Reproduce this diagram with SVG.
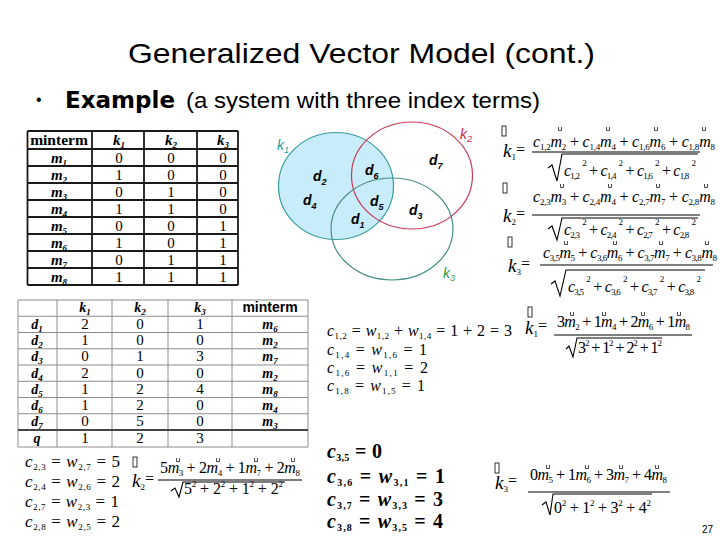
<svg xmlns="http://www.w3.org/2000/svg" width="720" height="540" viewBox="0 0 720 540">
<style>
.title{font-family:"Liberation Sans",Arial,sans-serif;font-size:28px;fill:#000}
.sans{font-family:"Liberation Sans",Arial,sans-serif;fill:#000}
.ex{font-family:"DejaVu Sans","Liberation Sans",sans-serif;font-weight:bold;font-size:23px}
.eq{font-family:"Liberation Serif","Times New Roman",serif;font-style:italic;font-size:16px;fill:#000}
.e17{font-size:17px}
.e20{font-size:20px;font-weight:bold}
.up{font-style:normal}
.sb{font-size:9px;font-style:normal}
.sb10{font-size:10px;font-style:normal}
.big{font-size:19px}
.ln{stroke:#000;stroke-width:1.1;fill:none}
.th{font-family:"Liberation Serif","Times New Roman",serif;font-weight:bold;font-size:15.5px;text-anchor:middle}
.tk{font-family:"Liberation Serif","Times New Roman",serif;font-weight:bold;font-style:italic;font-size:15px;text-anchor:middle}
.tk14{font-size:14px}
.tsb{font-size:9px}
.tv{font-family:"Liberation Serif","Times New Roman",serif;font-size:15px;text-anchor:middle}
.mt{font-family:"Liberation Sans",Arial,sans-serif;font-weight:bold;font-size:14px;text-anchor:middle}
.grid1{stroke:#1a1a1a;stroke-width:1.8;fill:none}
.grid2{stroke:#8c8c8c;stroke-width:1;fill:none}
.vk{font-family:"Liberation Sans",Arial,sans-serif;font-style:italic;font-size:14px}
.vd{font-family:"Liberation Sans",Arial,sans-serif;font-style:italic;font-weight:bold;font-size:14px;fill:#000}
.vs{font-size:9px}
</style>
<defs>
<path id="mk" d="M-1.5,0v3.5h3v-3.5" fill="none" stroke="#000" stroke-width="0.7"/>
<rect id="tf" x="0" y="0" width="4" height="10" fill="none" stroke="#000" stroke-width="0.8"/>
</defs>

<g id="title">
<text class="title" x="128" y="63" textLength="467" lengthAdjust="spacingAndGlyphs">Generalized Vector Model (cont.)</text>
</g>
<g id="subtitle">
<text class="sans" x="36" y="105" font-size="16">•</text>
<text class="ex" x="65" y="108" textLength="110" lengthAdjust="spacingAndGlyphs">Example</text>
<text class="sans" x="186" y="108" font-size="22" textLength="354" lengthAdjust="spacingAndGlyphs">(a system with three index terms)</text>
</g>

<g id="minterm-table">
<path class="grid1" d="M27.5,131H238M27.5,149H238M27.5,166H238M27.5,183H238M27.5,200H238M27.5,217H238M27.5,234H238M27.5,251H238M27.5,268H238M27.5,285H238M27.5,131V285M92,131V285M144,131V285M197,131V285M238,131V285"/>
<text class="th" x="59" y="145">minterm</text>
<text class="tk" x="119" y="145">k<tspan class="tsb" dy="3">1</tspan></text>
<text class="tk" x="171" y="145">k<tspan class="tsb" dy="3">2</tspan></text>
<text class="tk" x="223" y="145">k<tspan class="tsb" dy="3">3</tspan></text>
<text class="tk" x="59" y="163">m<tspan class="tsb" dy="3">1</tspan></text>
<text class="tk" x="59" y="180">m<tspan class="tsb" dy="3">2</tspan></text>
<text class="tk" x="59" y="197">m<tspan class="tsb" dy="3">3</tspan></text>
<text class="tk" x="59" y="214">m<tspan class="tsb" dy="3">4</tspan></text>
<text class="tk" x="59" y="231">m<tspan class="tsb" dy="3">5</tspan></text>
<text class="tk" x="59" y="248">m<tspan class="tsb" dy="3">6</tspan></text>
<text class="tk" x="59" y="265">m<tspan class="tsb" dy="3">7</tspan></text>
<text class="tk" x="59" y="282">m<tspan class="tsb" dy="3">8</tspan></text>
<text class="tv" x="119" y="163">0</text><text class="tv" x="171" y="163">0</text><text class="tv" x="223" y="163">0</text>
<text class="tv" x="119" y="180">1</text><text class="tv" x="171" y="180">0</text><text class="tv" x="223" y="180">0</text>
<text class="tv" x="119" y="197">0</text><text class="tv" x="171" y="197">1</text><text class="tv" x="223" y="197">0</text>
<text class="tv" x="119" y="214">1</text><text class="tv" x="171" y="214">1</text><text class="tv" x="223" y="214">0</text>
<text class="tv" x="119" y="231">0</text><text class="tv" x="171" y="231">0</text><text class="tv" x="223" y="231">1</text>
<text class="tv" x="119" y="248">1</text><text class="tv" x="171" y="248">0</text><text class="tv" x="223" y="248">1</text>
<text class="tv" x="119" y="265">0</text><text class="tv" x="171" y="265">1</text><text class="tv" x="223" y="265">1</text>
<text class="tv" x="119" y="282">1</text><text class="tv" x="171" y="282">1</text><text class="tv" x="223" y="282">1</text>
</g>

<g id="venn">
<ellipse cx="336" cy="186" rx="57.5" ry="53.5" fill="#c8ecf9" stroke="#3a9c9c" stroke-width="1.2"/>
<ellipse cx="412" cy="175.5" rx="60.5" ry="53.5" fill="none" stroke="#c83a55" stroke-width="1.2"/>
<ellipse cx="392" cy="229" rx="61" ry="51" fill="none" stroke="#4a8f88" stroke-width="1.2"/>
<text class="vk" x="277" y="150" fill="#2a9c9c">k<tspan class="vs" dy="3">1</tspan></text>
<text class="vk" x="460" y="139" fill="#d4203f">k<tspan class="vs" dy="3">2</tspan></text>
<text class="vk" x="443" y="278" fill="#2f9a45">k<tspan class="vs" dy="3">3</tspan></text>
<text class="vd" x="313" y="181">d<tspan class="vs" dy="4">2</tspan></text>
<text class="vd" x="303" y="205">d<tspan class="vs" dy="4">4</tspan></text>
<text class="vd" x="365" y="175">d<tspan class="vs" dy="4">6</tspan></text>
<text class="vd" x="370" y="206">d<tspan class="vs" dy="4">5</tspan></text>
<text class="vd" x="351" y="224">d<tspan class="vs" dy="4">1</tspan></text>
<text class="vd" x="429" y="165">d<tspan class="vs" dy="4">7</tspan></text>
<text class="vd" x="409" y="215">d<tspan class="vs" dy="4">3</tspan></text>
</g>

<g id="k1-general">
<use href="#tf" x="502" y="126"/>
<text class="eq big" x="503" y="157">k<tspan class="sb" dy="3">1</tspan></text>
<text class="eq up" x="516" y="155">=</text>
<use href="#mk" x="560" y="127"/><use href="#mk" x="608" y="127"/><use href="#mk" x="656" y="127"/><use href="#mk" x="704" y="127"/>
<text class="eq" x="533" y="147" textLength="182" lengthAdjust="spacing">c<tspan class="sb" dy="3">1,2</tspan><tspan dy="-3">m</tspan><tspan class="sb" dy="3">2</tspan><tspan class="up" dy="-3"> + </tspan>c<tspan class="sb" dy="3">1,4</tspan><tspan dy="-3">m</tspan><tspan class="sb" dy="3">4</tspan><tspan class="up" dy="-3"> + </tspan>c<tspan class="sb" dy="3">1,6</tspan><tspan dy="-3">m</tspan><tspan class="sb" dy="3">6</tspan><tspan class="up" dy="-3"> + </tspan>c<tspan class="sb" dy="3">1,8</tspan><tspan dy="-3">m</tspan><tspan class="sb" dy="3">8</tspan></text>
<path class="ln" d="M532,152H700M548,168L552,165L557,181L562,154H698"/>
<text class="eq" x="564" y="176" textLength="132" lengthAdjust="spacing">c<tspan class="sb" dy="3">1,2</tspan><tspan class="sb" dx="3" dy="-13">2</tspan><tspan class="up" dy="10"> + </tspan>c<tspan class="sb" dy="3">1,4</tspan><tspan class="sb" dx="3" dy="-13">2</tspan><tspan class="up" dy="10"> + </tspan>c<tspan class="sb" dy="3">1,6</tspan><tspan class="sb" dx="3" dy="-13">2</tspan><tspan class="up" dy="10"> + </tspan>c<tspan class="sb" dy="3">1,8</tspan><tspan class="sb" dx="3" dy="-13">2</tspan></text>
</g>

<g id="k2-general">
<use href="#tf" x="503" y="183"/>
<text class="eq big" x="503" y="222">k<tspan class="sb" dy="3">2</tspan></text>
<text class="eq up" x="516" y="219">=</text>
<use href="#mk" x="562" y="184"/><use href="#mk" x="610" y="184"/><use href="#mk" x="658" y="184"/><use href="#mk" x="706" y="184"/>
<text class="eq" x="533" y="202" textLength="182" lengthAdjust="spacing">c<tspan class="sb" dy="3">2,3</tspan><tspan dy="-3">m</tspan><tspan class="sb" dy="3">3</tspan><tspan class="up" dy="-3"> + </tspan>c<tspan class="sb" dy="3">2,4</tspan><tspan dy="-3">m</tspan><tspan class="sb" dy="3">4</tspan><tspan class="up" dy="-3"> + </tspan>c<tspan class="sb" dy="3">2,7</tspan><tspan dy="-3">m</tspan><tspan class="sb" dy="3">7</tspan><tspan class="up" dy="-3"> + </tspan>c<tspan class="sb" dy="3">2,8</tspan><tspan dy="-3">m</tspan><tspan class="sb" dy="3">8</tspan></text>
<path class="ln" d="M532,215H700M548,229L552,226L557,240L562,218H698"/>
<text class="eq" x="564" y="235" textLength="132" lengthAdjust="spacing">c<tspan class="sb" dy="3">2,3</tspan><tspan class="sb" dx="3" dy="-13">2</tspan><tspan class="up" dy="10"> + </tspan>c<tspan class="sb" dy="3">2,4</tspan><tspan class="sb" dx="3" dy="-13">2</tspan><tspan class="up" dy="10"> + </tspan>c<tspan class="sb" dy="3">2,7</tspan><tspan class="sb" dx="3" dy="-13">2</tspan><tspan class="up" dy="10"> + </tspan>c<tspan class="sb" dy="3">2,8</tspan><tspan class="sb" dx="3" dy="-13">2</tspan></text>
</g>

<g id="k3-general">
<use href="#tf" x="508" y="237"/>
<text class="eq big" x="508" y="272">k<tspan class="sb" dy="3">3</tspan></text>
<text class="eq up" x="521" y="269">=</text>
<use href="#mk" x="566" y="241"/><use href="#mk" x="615" y="241"/><use href="#mk" x="661" y="241"/><use href="#mk" x="707" y="241"/>
<text class="eq" x="543" y="258" textLength="174" lengthAdjust="spacing">c<tspan class="sb" dy="3">3,5</tspan><tspan dy="-3">m</tspan><tspan class="sb" dy="3">5</tspan><tspan class="up" dy="-3"> + </tspan>c<tspan class="sb" dy="3">3,6</tspan><tspan dy="-3">m</tspan><tspan class="sb" dy="3">6</tspan><tspan class="up" dy="-3"> + </tspan>c<tspan class="sb" dy="3">3,7</tspan><tspan dy="-3">m</tspan><tspan class="sb" dy="3">7</tspan><tspan class="up" dy="-3"> + </tspan>c<tspan class="sb" dy="3">3,8</tspan><tspan dy="-3">m</tspan><tspan class="sb" dy="3">8</tspan></text>
<path class="ln" d="M540,265H713M551,284L555,281L560,296L566,270H705"/>
<text class="eq" x="568" y="292" textLength="133" lengthAdjust="spacing">c<tspan class="sb" dy="3">3,5</tspan><tspan class="sb" dx="3" dy="-13">2</tspan><tspan class="up" dy="10"> + </tspan>c<tspan class="sb" dy="3">3,6</tspan><tspan class="sb" dx="3" dy="-13">2</tspan><tspan class="up" dy="10"> + </tspan>c<tspan class="sb" dy="3">3,7</tspan><tspan class="sb" dx="3" dy="-13">2</tspan><tspan class="up" dy="10"> + </tspan>c<tspan class="sb" dy="3">3,8</tspan><tspan class="sb" dx="3" dy="-13">2</tspan></text>
</g>

<g id="doc-table">
<path class="grid2" d="M18,300H308M18,316.25H308M18,332.5H308M18,348.75H308M18,365H308M18,381.25H308M18,397.5H308M18,413.75H308M18,447H308M18,300V447M57,300V447M112,300V447M168,300V447M232,300V447M308,300V447"/>
<path d="M18,430H308" stroke="#444" stroke-width="2"/>
<text class="tk tk14" x="85" y="312">k<tspan class="tsb" dy="3">1</tspan></text>
<text class="tk tk14" x="140" y="312">k<tspan class="tsb" dy="3">2</tspan></text>
<text class="tk tk14" x="200" y="312">k<tspan class="tsb" dy="3">3</tspan></text>
<text class="mt" x="270" y="312">minterm</text>
<text class="tk tk14" x="37" y="328.5">d<tspan class="tsb" dy="3">1</tspan></text>
<text class="tk tk14" x="37" y="345">d<tspan class="tsb" dy="3">2</tspan></text>
<text class="tk tk14" x="37" y="361">d<tspan class="tsb" dy="3">3</tspan></text>
<text class="tk tk14" x="37" y="377.5">d<tspan class="tsb" dy="3">4</tspan></text>
<text class="tk tk14" x="37" y="393.5">d<tspan class="tsb" dy="3">5</tspan></text>
<text class="tk tk14" x="37" y="410">d<tspan class="tsb" dy="3">6</tspan></text>
<text class="tk tk14" x="37" y="426">d<tspan class="tsb" dy="3">7</tspan></text>
<text class="tk tk14" x="37" y="443">q</text>
<text class="tv" x="85" y="328.5">2</text><text class="tv" x="140" y="328.5">0</text><text class="tv" x="200" y="328.5">1</text><text class="tk tk14" x="270" y="328.5">m<tspan class="tsb" dy="3">6</tspan></text>
<text class="tv" x="85" y="345">1</text><text class="tv" x="140" y="345">0</text><text class="tv" x="200" y="345">0</text><text class="tk tk14" x="270" y="345">m<tspan class="tsb" dy="3">2</tspan></text>
<text class="tv" x="85" y="361">0</text><text class="tv" x="140" y="361">1</text><text class="tv" x="200" y="361">3</text><text class="tk tk14" x="270" y="361">m<tspan class="tsb" dy="3">7</tspan></text>
<text class="tv" x="85" y="377.5">2</text><text class="tv" x="140" y="377.5">0</text><text class="tv" x="200" y="377.5">0</text><text class="tk tk14" x="270" y="377.5">m<tspan class="tsb" dy="3">2</tspan></text>
<text class="tv" x="85" y="393.5">1</text><text class="tv" x="140" y="393.5">2</text><text class="tv" x="200" y="393.5">4</text><text class="tk tk14" x="270" y="393.5">m<tspan class="tsb" dy="3">8</tspan></text>
<text class="tv" x="85" y="410">1</text><text class="tv" x="140" y="410">2</text><text class="tv" x="200" y="410">0</text><text class="tk tk14" x="270" y="410">m<tspan class="tsb" dy="3">4</tspan></text>
<text class="tv" x="85" y="426">0</text><text class="tv" x="140" y="426">5</text><text class="tv" x="200" y="426">0</text><text class="tk tk14" x="270" y="426">m<tspan class="tsb" dy="3">3</tspan></text>
<text class="tv" x="85" y="443">1</text><text class="tv" x="140" y="443">2</text><text class="tv" x="200" y="443">3</text>
</g>

<g id="c1-values">
<text class="eq" x="327" y="336" textLength="185" lengthAdjust="spacing">c<tspan class="sb" dy="3">1,2</tspan><tspan class="up" dy="-3"> = </tspan>w<tspan class="sb" dy="3">1,2</tspan><tspan class="up" dy="-3"> + </tspan>w<tspan class="sb" dy="3">1,4</tspan><tspan class="up" dy="-3"> = 1 + 2 = 3</tspan></text>
<text class="eq" x="327" y="355" textLength="100" lengthAdjust="spacing">c<tspan class="sb" dy="3">1,4</tspan><tspan class="up" dy="-3"> = </tspan>w<tspan class="sb" dy="3">1,6</tspan><tspan class="up" dy="-3"> = 1</tspan></text>
<text class="eq" x="327" y="373" textLength="101" lengthAdjust="spacing">c<tspan class="sb" dy="3">1,6</tspan><tspan class="up" dy="-3"> = </tspan>w<tspan class="sb" dy="3">1,1</tspan><tspan class="up" dy="-3"> = 2</tspan></text>
<text class="eq" x="327" y="391" textLength="98" lengthAdjust="spacing">c<tspan class="sb" dy="3">1,8</tspan><tspan class="up" dy="-3"> = </tspan>w<tspan class="sb" dy="3">1,5</tspan><tspan class="up" dy="-3"> = 1</tspan></text>
</g>

<g id="k1-numeric">
<use href="#tf" x="528" y="307"/>
<text class="eq big" x="525" y="334">k<tspan class="sb" dy="3">1</tspan></text>
<text class="eq up" x="538" y="331">=</text>
<use href="#mk" x="572" y="312"/><use href="#mk" x="604" y="312"/><use href="#mk" x="643" y="312"/><use href="#mk" x="679" y="312"/>
<text class="eq" x="557" y="327" textLength="133" lengthAdjust="spacing"><tspan class="up">3</tspan>m<tspan class="sb" dy="3">2</tspan><tspan class="up" dy="-3"> + 1</tspan>m<tspan class="sb" dy="3">4</tspan><tspan class="up" dy="-3"> + 2</tspan>m<tspan class="sb" dy="3">6</tspan><tspan class="up" dy="-3"> + 1</tspan>m<tspan class="sb" dy="3">8</tspan></text>
<path class="ln" d="M554,335H692M566,349L569,346L573,357L577,338H662"/>
<text class="eq up" x="578" y="353" textLength="84" lengthAdjust="spacing">3<tspan class="sb" dy="-7">2</tspan><tspan dy="7"> + 1</tspan><tspan class="sb" dy="-7">2</tspan><tspan dy="7"> + 2</tspan><tspan class="sb" dy="-7">2</tspan><tspan dy="7"> + 1</tspan><tspan class="sb" dy="-7">2</tspan></text>
</g>

<g id="c2-values">
<text class="eq e17" x="25" y="467" textLength="95" lengthAdjust="spacing">c<tspan class="sb" dy="3">2,3</tspan><tspan class="up" dy="-3"> = </tspan>w<tspan class="sb" dy="3">2,7</tspan><tspan class="up" dy="-3"> = 5</tspan></text>
<text class="eq e17" x="25" y="487" textLength="95" lengthAdjust="spacing">c<tspan class="sb" dy="3">2,4</tspan><tspan class="up" dy="-3"> = </tspan>w<tspan class="sb" dy="3">2,6</tspan><tspan class="up" dy="-3"> = 2</tspan></text>
<text class="eq e17" x="25" y="507" textLength="94" lengthAdjust="spacing">c<tspan class="sb" dy="3">2,7</tspan><tspan class="up" dy="-3"> = </tspan>w<tspan class="sb" dy="3">2,3</tspan><tspan class="up" dy="-3"> = 1</tspan></text>
<text class="eq e17" x="25" y="527" textLength="95" lengthAdjust="spacing">c<tspan class="sb" dy="3">2,8</tspan><tspan class="up" dy="-3"> = </tspan>w<tspan class="sb" dy="3">2,5</tspan><tspan class="up" dy="-3"> = 2</tspan></text>
</g>

<g id="k2-numeric">
<use href="#tf" x="133" y="457"/>
<text class="eq big" x="132" y="487">k<tspan class="sb" dy="3">2</tspan></text>
<text class="eq up" x="145" y="484">=</text>
<use href="#mk" x="178" y="458"/><use href="#mk" x="218" y="458"/><use href="#mk" x="256" y="458"/><use href="#mk" x="293" y="458"/>
<text class="eq" x="160" y="473" textLength="140" lengthAdjust="spacing"><tspan class="up">5</tspan>m<tspan class="sb" dy="3">3</tspan><tspan class="up" dy="-3"> + 2</tspan>m<tspan class="sb" dy="3">4</tspan><tspan class="up" dy="-3"> + 1</tspan>m<tspan class="sb" dy="3">7</tspan><tspan class="up" dy="-3"> + 2</tspan>m<tspan class="sb" dy="3">8</tspan></text>
<path class="ln" d="M158,480H302M171,491L175,488L179,497L183,482H285"/>
<text class="eq up" x="184" y="494" textLength="99" lengthAdjust="spacing">5<tspan class="sb" dy="-7">2</tspan><tspan dy="7"> + 2</tspan><tspan class="sb" dy="-7">2</tspan><tspan dy="7"> + 1</tspan><tspan class="sb" dy="-7">2</tspan><tspan dy="7"> + 2</tspan><tspan class="sb" dy="-7">2</tspan></text>
</g>

<g id="c3-values">
<text class="eq e20" x="327" y="458" textLength="55" lengthAdjust="spacing">c<tspan class="sb10" dy="3">3,5</tspan><tspan class="up" dy="-3"> = 0</tspan></text>
<text class="eq e20" x="327" y="483" textLength="118" lengthAdjust="spacing">c<tspan class="sb10" dy="3">3,6</tspan><tspan class="up" dy="-3"> = </tspan>w<tspan class="sb10" dy="3">3,1</tspan><tspan class="up" dy="-3"> = 1</tspan></text>
<text class="eq e20" x="327" y="506" textLength="116" lengthAdjust="spacing">c<tspan class="sb10" dy="3">3,7</tspan><tspan class="up" dy="-3"> = </tspan>w<tspan class="sb10" dy="3">3,3</tspan><tspan class="up" dy="-3"> = 3</tspan></text>
<text class="eq e20" x="327" y="528" textLength="116" lengthAdjust="spacing">c<tspan class="sb10" dy="3">3,8</tspan><tspan class="up" dy="-3"> = </tspan>w<tspan class="sb10" dy="3">3,5</tspan><tspan class="up" dy="-3"> = 4</tspan></text>
</g>

<g id="k3-numeric">
<use href="#tf" x="495" y="463"/>
<text class="eq big" x="495" y="489">k<tspan class="sb" dy="3">3</tspan></text>
<text class="eq up" x="508" y="486">=</text>
<use href="#mk" x="548" y="465"/><use href="#mk" x="587" y="465"/><use href="#mk" x="621" y="465"/><use href="#mk" x="657" y="465"/>
<text class="eq" x="530" y="480" textLength="137" lengthAdjust="spacing"><tspan class="up">0</tspan>m<tspan class="sb" dy="3">5</tspan><tspan class="up" dy="-3"> + 1</tspan>m<tspan class="sb" dy="3">6</tspan><tspan class="up" dy="-3"> + 3</tspan>m<tspan class="sb" dy="3">7</tspan><tspan class="up" dy="-3"> + 4</tspan>m<tspan class="sb" dy="3">8</tspan></text>
<path class="ln" d="M528,492H670M542,505L546,502L550,515L553,494H652"/>
<text class="eq up" x="554" y="513" textLength="97" lengthAdjust="spacing">0<tspan class="sb" dy="-7">2</tspan><tspan dy="7"> + 1</tspan><tspan class="sb" dy="-7">2</tspan><tspan dy="7"> + 3</tspan><tspan class="sb" dy="-7">2</tspan><tspan dy="7"> + 4</tspan><tspan class="sb" dy="-7">2</tspan></text>
</g>

<g id="page-number">
<text class="sans" x="702" y="533" font-size="10">27</text>
</g>
</svg>
